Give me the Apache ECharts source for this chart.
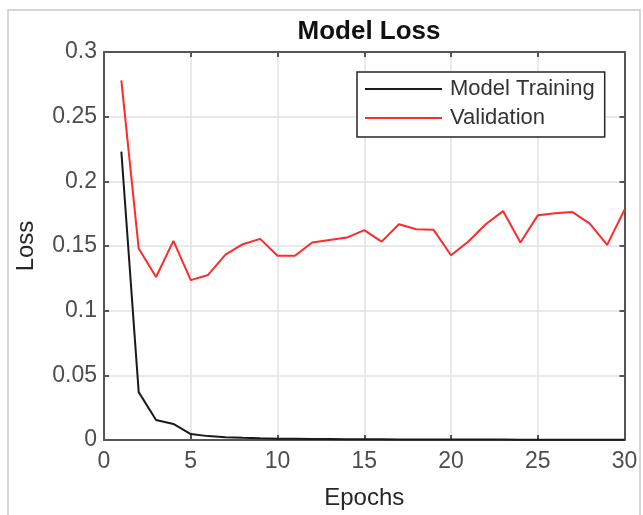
<!DOCTYPE html>
<html>
<head>
<meta charset="utf-8">
<script src="https://cdn.jsdelivr.net/npm/echarts@6/dist/echarts.min.js"></script>
<style>
html,body{margin:0;padding:0;background:#fff;}
#chart{width:643px;height:515px;}
</style>
</head>
<body>
<div id="chart"></div>
<script>
const epochs = [1,2,3,4,5,6,7,8,9,10,11,12,13,14,15,16,17,18,19,20,21,22,23,24,25,26,27,28,29,30];
const trainingLoss = [0.223,0.037,0.0154,0.0124,0.0046,0.003,0.0022,0.0017,0.0013,0.001,0.0009,0.0008,0.0007,0.0006,0.0005,0.0005,0.0004,0.0004,0.0004,0.0003,0.0003,0.0003,0.0003,0.0002,0.0002,0.0002,0.0002,0.0002,0.0002,0.0002];
const validationLoss = [0.278,0.148,0.126,0.154,0.1236,0.1276,0.1433,0.1514,0.1555,0.1425,0.1425,0.1527,0.1547,0.1565,0.1623,0.1534,0.1668,0.163,0.1625,0.1428,0.1535,0.1668,0.177,0.1527,0.1737,0.1754,0.1762,0.1673,0.1509,0.178];
const seriesNames = ['Model Training','Validation'];
const titleText = 'Model Loss';
const xName = 'Epochs';
const yName = 'Loss';

const FONT = '"Liberation Sans", Arial, Helvetica, sans-serif';
const AXIS_COLOR = '#555555';
const chart = echarts.init(document.getElementById('chart'), null, {renderer:'canvas'});

function pairs(ys){ return epochs.map((x,i)=>[x, ys[i]]); }

const baseX = {type:'value', min:0, max:30, interval:5};
const baseY = {type:'value', min:0, max:0.3, interval:0.05};
const lineStyle = {color:AXIS_COLOR, width:2};

chart.setOption({
  animation:false,
  backgroundColor:'#ffffff',
  textStyle:{fontFamily:FONT},
  title:{
    text:titleText, left:364, top:14, textAlign:'center',
    textStyle:{fontFamily:FONT, fontSize:26, fontWeight:'bold', color:'#111'}
  },
  graphic:[{
    type:'rect', z:-10, silent:true,
    shape:{x:8, y:10, width:632, height:520},
    style:{fill:'none', stroke:'#d6d6d6', lineWidth:2}
  }],
  grid:{left:104, right:18.5, top:52, bottom:69, containLabel:false},
  legend:{
    data:seriesNames, orient:'vertical', left:357, top:72,
    width:249, padding:[6,10,8,8], itemGap:7,
    itemWidth:77, itemHeight:2, icon:'rect',
    backgroundColor:'#ffffff', borderColor:'#262626', borderWidth:1.5,
    textStyle:{fontFamily:FONT, fontSize:22, color:'#333', lineHeight:22, padding:[0,0,0,3]}
  },
  xAxis:[
    Object.assign({}, baseX, {
      position:'bottom', name:xName, nameLocation:'middle', nameGap:46,
      nameTextStyle:{fontFamily:FONT, fontSize:24, color:'#262626'},
      axisLine:{show:true, onZero:false, lineStyle:lineStyle},
      axisTick:{show:true, inside:true, length:5, lineStyle:lineStyle},
      axisLabel:{show:true, margin:10, fontFamily:FONT, fontSize:23, color:'#4d4d4d'},
      splitLine:{show:true, lineStyle:{color:'#e2e2e2', width:1.5}}
    }),
    Object.assign({}, baseX, {
      position:'top',
      axisLine:{show:true, onZero:false, lineStyle:lineStyle},
      axisTick:{show:true, inside:true, length:5, lineStyle:lineStyle},
      axisLabel:{show:false}, splitLine:{show:false}
    })
  ],
  yAxis:[
    Object.assign({}, baseY, {
      position:'left', name:yName, nameLocation:'middle', nameGap:66, nameRotate:90,
      nameTextStyle:{fontFamily:FONT, fontSize:24, color:'#262626'},
      axisLine:{show:true, onZero:false, lineStyle:lineStyle},
      axisTick:{show:true, inside:true, length:5, lineStyle:lineStyle},
      axisLabel:{show:true, margin:7, fontFamily:FONT, fontSize:23, color:'#4d4d4d'},
      splitLine:{show:true, lineStyle:{color:'#e2e2e2', width:1.5}}
    }),
    Object.assign({}, baseY, {
      position:'right',
      axisLine:{show:true, onZero:false, lineStyle:lineStyle},
      axisTick:{show:true, inside:true, length:5, lineStyle:lineStyle},
      axisLabel:{show:false}, splitLine:{show:false}
    })
  ],
  series:[
    {name:seriesNames[0], type:'line', xAxisIndex:0, yAxisIndex:0, data:pairs(trainingLoss),
     showSymbol:false, symbol:'none', color:'#1a1a1a', lineStyle:{color:'#1a1a1a', width:2}, z:3},
    {name:seriesNames[1], type:'line', xAxisIndex:0, yAxisIndex:0, data:pairs(validationLoss),
     showSymbol:false, symbol:'none', color:'#ff2a2a', lineStyle:{color:'#ff2a2a', width:2}, z:2}
  ]
});
</script>
</body>
</html>
